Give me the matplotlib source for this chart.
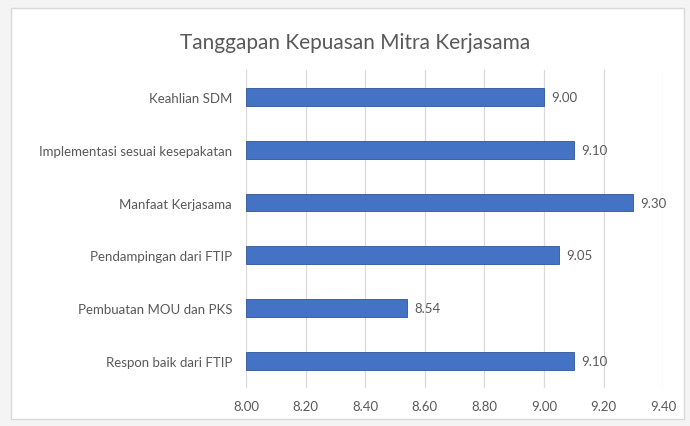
import matplotlib.pyplot as plt
from matplotlib.patches import Rectangle

# data (top to bottom as in the chart)
categories = ["Keahlian SDM", "Implementasi sesuai kesepakatan", "Manfaat Kerjasama",
              "Pendampingan dari FTIP", "Pembuatan MOU dan PKS", "Respon baik dari FTIP"]
scores = [9.00, 9.10, 9.30, 9.05, 8.54, 9.10]
xticks = [8.00, 8.20, 8.40, 8.60, 8.80, 9.00, 9.20, 9.40]

plt.rcParams['font.family'] = ['Lato', 'DejaVu Sans']
text_col = '#595959'

fig = plt.figure(figsize=(6.9, 4.27), dpi=100)
fig.patch.set_facecolor('#f4f4f4')
# chart area frame, kept behind the axes
frame = Rectangle((0.016, 0.016), 0.975, 0.962, transform=fig.transFigure,
                  facecolor='white', edgecolor='#d9d9d9', lw=1.0, zorder=-10)
fig.add_artist(frame)

ax = fig.add_axes([0.3565, 0.090, 0.6045, 0.743])
ax.set_facecolor('none')

ypos = list(range(len(categories)))
ax.barh(ypos, [s - xticks[0] for s in scores], left=xticks[0], height=0.34,
        color='#4472C4', edgecolor='#2f5597', lw=0.6, zorder=3)

for y, s in zip(ypos, scores):
    ax.text(s + 0.025, y, f"{s:.2f}", va='center', ha='left', fontsize=9.5, color=text_col)

ax.set_xlim(xticks[0], xticks[-1])
ax.set_ylim(len(categories) - 0.5, -0.5)
ax.set_xticks(xticks)
ax.set_xticklabels([f"{t:.2f}" for t in xticks])
ax.set_yticks(ypos)
ax.set_yticklabels(categories)
ax.tick_params(axis='both', length=0, labelsize=9.5, colors=text_col)
ax.tick_params(axis='x', pad=9)
ax.tick_params(axis='y', pad=10)
ax.grid(axis='x', color='#d9d9d9', lw=0.9, zorder=0)
for sp in ax.spines.values():
    sp.set_visible(False)

fig.text(0.515, 0.90, "Tanggapan Kepuasan Mitra Kerjasama", ha='center', va='center',
         fontsize=15, color=text_col)

fig.savefig("out.png", dpi=100)
